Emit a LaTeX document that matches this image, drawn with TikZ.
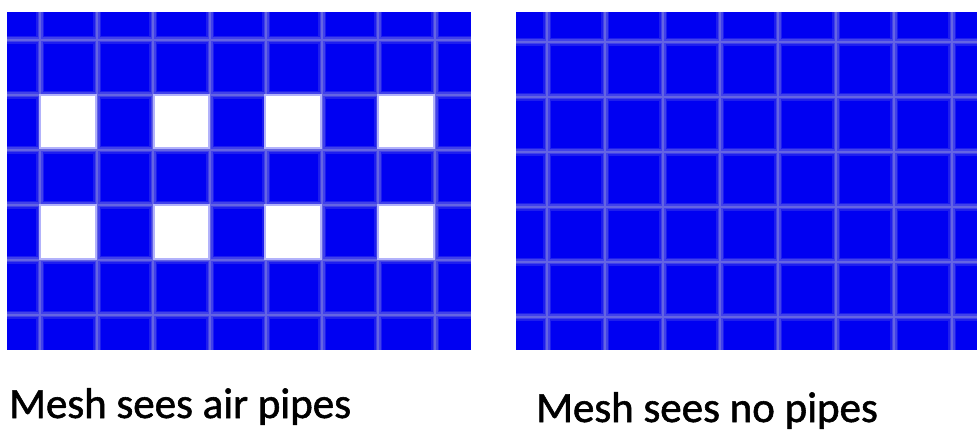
\documentclass[tikz,border=0pt]{standalone}
\usepackage{fontspec}
\setmainfont{Carlito}
\newfontfamily\capfont[FakeBold=1.3]{Carlito}
\definecolor{meshblue}{RGB}{0,0,242}
\definecolor{gridouter}{RGB}{30,30,238}
\definecolor{gridmid}{RGB}{65,65,234}
\definecolor{gridinner}{RGB}{100,100,228}
\begin{document}
\begin{tikzpicture}[x=1pt,y=-1pt,
  gridsoft/.style={line width=8pt, draw=gridouter},
  gridmidl/.style={line width=5pt, draw=gridmid},
  gridcore/.style={line width=2.2pt, draw=gridinner},
  pipe/.style={fill=white, draw=white!70!meshblue, line width=1.5pt},
  caption/.style={anchor=base west, inner sep=0pt, font=\capfont\fontsize{43}{50}\selectfont}]
\useasboundingbox (0,0) rectangle (977,435);
\fill[white] (0,0) rectangle (977,435);
% left panel
\begin{scope}
\clip (7,12) rectangle (471,350);
\fill[meshblue] (7,12) rectangle (471,350);
\foreach \s in {gridsoft,gridmidl,gridcore}{
  \foreach \x in {40,97,153,210,266,322,378,435} \draw[\s] (\x,12) -- (\x,350);
  \foreach \y in {40,95,150,205,260,315} \draw[\s] (7,\y) -- (471,\y);
}
\foreach \x/\w in {40/56,154/55,265/56,378/56}{
  \filldraw[pipe] (\x,95) rectangle ++(\w,53);
  \filldraw[pipe] (\x,205) rectangle ++(\w,54);
}
\end{scope}
% right panel
\begin{scope}
\clip (516,12) rectangle (977,350);
\fill[meshblue] (516,12) rectangle (977,350);
\foreach \s in {gridsoft,gridmidl,gridcore}{
  \foreach \x in {547,605,663,720,778,836,894,952} \draw[\s] (\x,12) -- (\x,350);
  \foreach \y in {42,97,152,207,262,317} \draw[\s] (516,\y) -- (977,\y);
}
\end{scope}
\node[caption] (lefttext) at (9,418) {Mesh sees air pipes};
\node[caption] (righttext) at (536,422) {Mesh sees no pipes};
\end{tikzpicture}
\end{document}
